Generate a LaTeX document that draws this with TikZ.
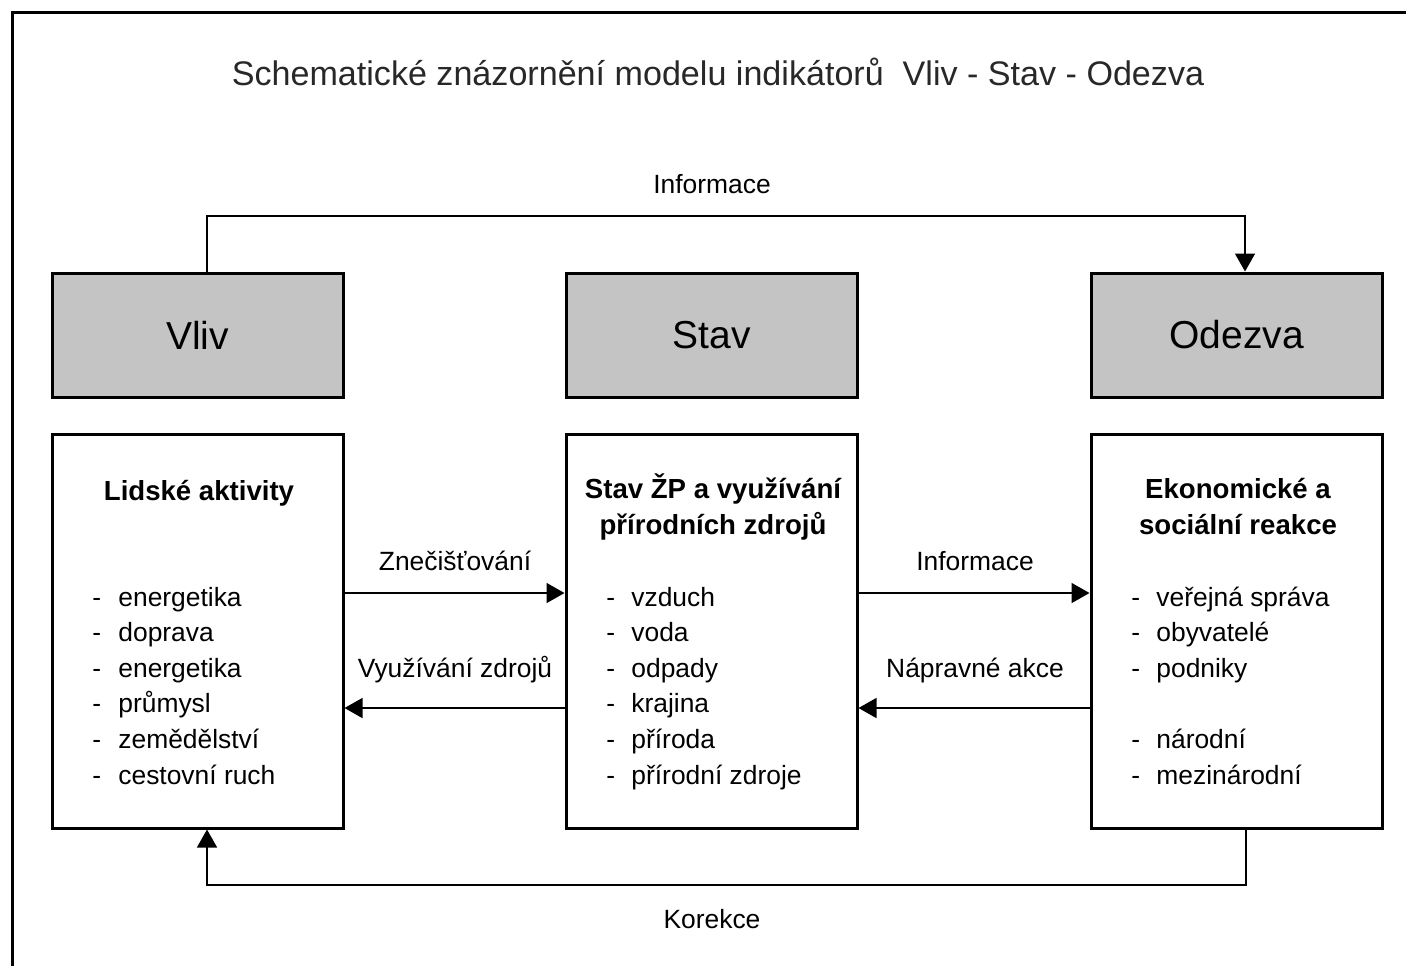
\documentclass[tikz,border=0pt]{standalone}
\usepackage{fontspec}
\setmainfont{Liberation Sans}
\usetikzlibrary{arrows.meta}
\definecolor{hdrgray}{RGB}{196,196,196}
\definecolor{titlegray}{RGB}{40,40,40}
\tikzset{
  hdrbox/.style={draw=black, line width=1.5pt, fill=hdrgray, inner sep=0pt,
    minimum width=145.5pt, minimum height=62pt, font=\fontsize{19.5pt}{23pt}\selectfont},
  lowbox/.style={draw=black, line width=1.5pt, fill=white, inner sep=0pt,
    minimum width=145.5pt, minimum height=197pt},
  boxtitle/.style={anchor=base, inner sep=0pt, align=center, font=\bfseries\fontsize{13.8pt}{18pt}\selectfont},
  itemtxt/.style={anchor=base west, inner sep=0pt, font=\fontsize{13.2pt}{16pt}\selectfont},
  lbl/.style={anchor=base, inner sep=0pt, font=\fontsize{13.2pt}{16pt}\selectfont},
  conn/.style={draw=black, line width=0.75pt},
  tip/.style={-{Triangle[length=9pt,width=10pt]}},
  frameline/.style={draw=black, line width=1.5pt}
}
\begin{document}
\begin{tikzpicture}[x=0.5pt,y=-0.5pt]
\useasboundingbox (0,0) rectangle (1406,966);
\fill[white] (0,0) rectangle (1406,966);
% outer frame (partly visible)
\draw[frameline] (1406,12) -- (12,12) -- (12,966);

% title
\node[anchor=base, inner sep=0pt, text=titlegray, font=\fontsize{17.05pt}{20pt}\selectfont] (title) at (718,85)
  {Schematické znázornění modelu indikátorů\ \ Vliv - Stav - Odezva};

% header boxes
\node[hdrbox] (hv) at (197.5,335) {Vliv};
\node[hdrbox] (hs) at (711.5,335) {Stav};
\node[hdrbox] (ho) at (1236.5,335) {Odezva};

% lower boxes
\node[lowbox] (lv) at (197.5,631) {};
\node[lowbox] (ls) at (711.5,631) {};
\node[lowbox] (lo) at (1236.5,631) {};

% box titles
\node[boxtitle] (tv) at (199,500) {Lidské aktivity};
\node[boxtitle] (ts1) at (713,498) {Stav ŽP a využívání};
\node[boxtitle] (ts2) at (713,534) {přírodních zdrojů};
\node[boxtitle] (to1) at (1238,498) {Ekonomické a};
\node[boxtitle] (to2) at (1238,534) {sociální reakce};

% lists
\foreach \t [count=\i] in {energetika,doprava,energetika,průmysl,zemědělství,cestovní ruch}{
  \pgfmathsetmacro{\yy}{606+35.6*(\i-1)}
  \node[itemtxt] (dv\i) at (92,\yy) {-};
  \node[itemtxt] (iv\i) at (118,\yy) {\t};
}
\foreach \t [count=\i] in {vzduch,voda,odpady,krajina,příroda,přírodní zdroje}{
  \pgfmathsetmacro{\yy}{606+35.6*(\i-1)}
  \node[itemtxt] (ds\i) at (606,\yy) {-};
  \node[itemtxt] (is\i) at (631,\yy) {\t};
}
\foreach \t/\k in {veřejná správa/1,obyvatelé/2,podniky/3,národní/5,mezinárodní/6}{
  \pgfmathsetmacro{\yy}{606+35.6*(\k-1)}
  \node[itemtxt] (do\k) at (1131,\yy) {-};
  \node[itemtxt] (io\k) at (1156,\yy) {\t};
}

% top Informace loop
\coordinate (topmid) at (712,216);
\draw[conn,tip] ([xshift=4.75pt]hv.north) |- (topmid) -| ([xshift=4.25pt]ho.north);
\node[lbl] (linfo) at (712,193) {Informace};

% bottom Korekce loop
\coordinate (botmid) at (712,885);
\draw[conn,tip] ([xshift=4.75pt]lo.south) |- (botmid) -| ([xshift=4.75pt]lv.south);
\node[lbl] (lkor) at (712,928) {Korekce};

% middle arrows
\draw[conn,tip] ([yshift=19pt]lv.east) -- ([yshift=19pt]ls.west);
\draw[conn,tip] ([yshift=-38.5pt]ls.west) -- ([yshift=-38.5pt]lv.east);
\draw[conn,tip] ([yshift=19pt]ls.east) -- ([yshift=19pt]lo.west);
\draw[conn,tip] ([yshift=-38.5pt]lo.west) -- ([yshift=-38.5pt]ls.east);

\node[lbl] (lzn) at (455,570) {Znečišťování};
\node[lbl] (lvy) at (455,677) {Využívání zdrojů};
\node[lbl] (lin2) at (975,570) {Informace};
\node[lbl] (lna) at (975,677) {Nápravné akce};
\end{tikzpicture}
\end{document}
